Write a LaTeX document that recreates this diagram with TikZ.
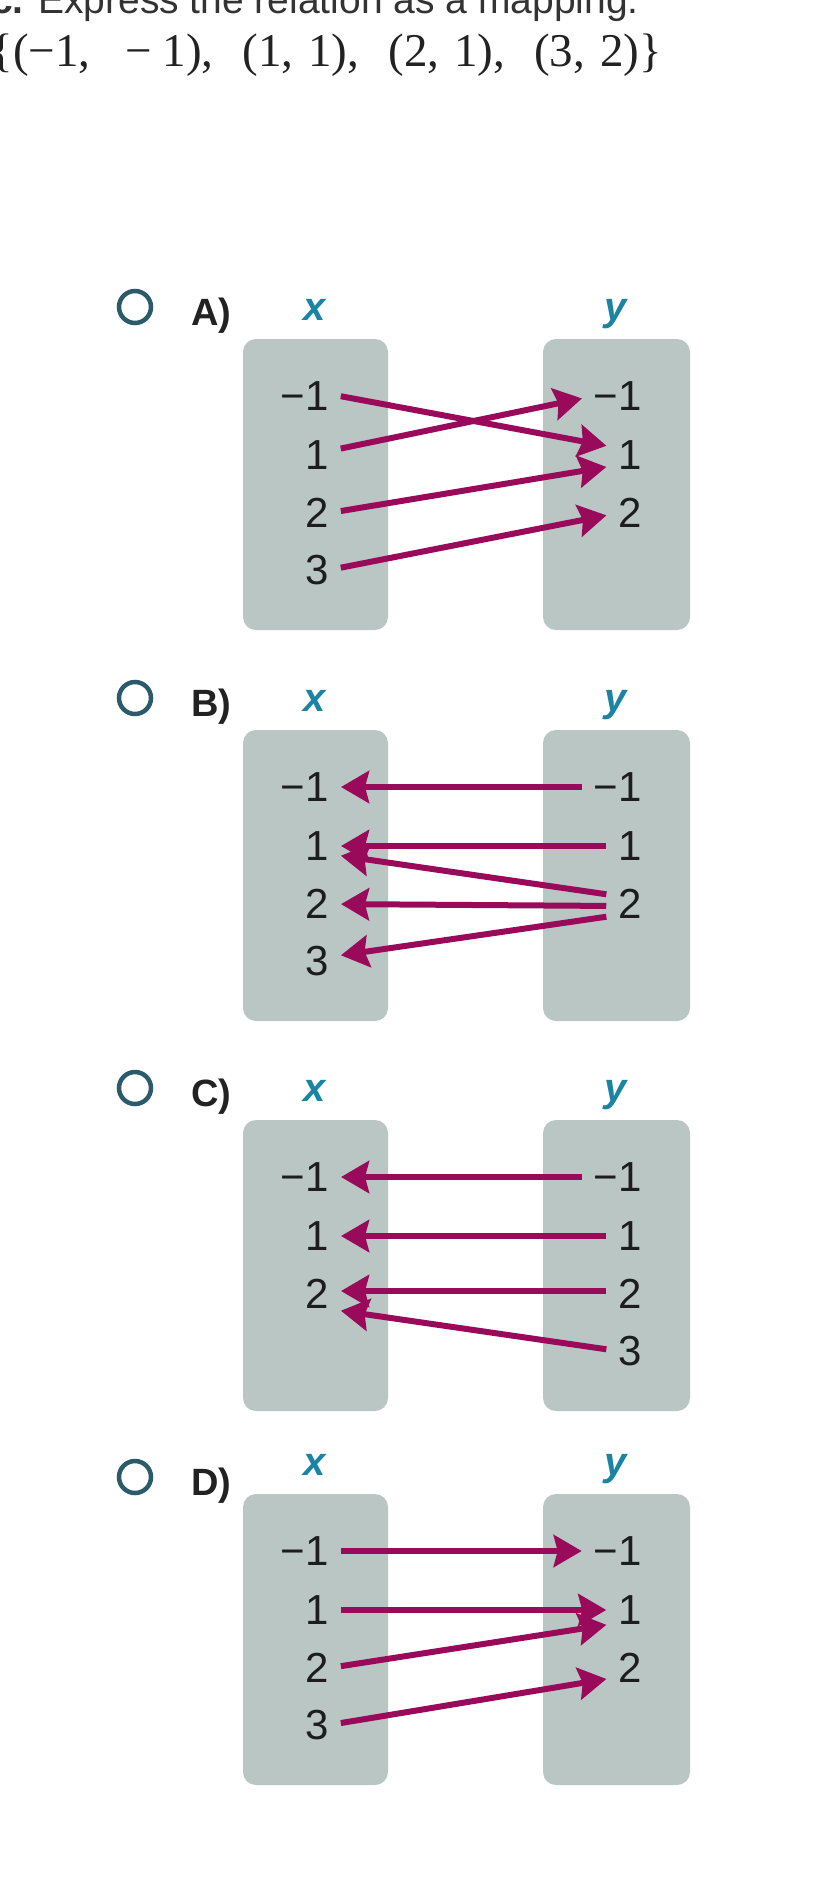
\documentclass[tikz,border=0pt]{standalone}
\usepackage{fontspec}
\setmainfont{Liberation Sans}
\newfontfamily\setserif{Liberation Serif}
\usetikzlibrary{arrows.meta}

\tikzset{
  numlabel/.style={inner sep=0pt, text=r29g29b29, font=\fontsize{42}{42}\selectfont},
  setname/.style={inner sep=0pt, anchor=base, text=r27g132b163, font=\bfseries\itshape\fontsize{40}{40}\selectfont},
  optletter/.style={inner sep=0pt, anchor=base west, text=r34g34b34, font=\bfseries\fontsize{38}{38}\selectfont},
  optcircle/.style={draw=r43g90b107, line width=4.5pt},
  setbox/.style={fill=r185g198b195, rounded corners=13pt},
  maparrow/.style={draw=r153g10b91, line width=6pt, -{Stealth[length=28pt, width=32pt, inset=4pt]}, shorten <=12pt, shorten >=12pt}
}

\begin{document}
\begin{tikzpicture}[x=1pt, y=-1pt]
                    \useasboundingbox (0,0) rectangle (835,1885);
                    \clip (0,0) rectangle (835,1885);

                    % Changing colors
                    \definecolor{r29g29b29}{RGB}{29,29,29}%
                    \definecolor{r27g132b163}{RGB}{27,132,163}%
                    \definecolor{r34g34b34}{RGB}{34,34,34}%
                    \definecolor{r43g90b107}{RGB}{43,90,107}%
                    \definecolor{r185g198b195}{RGB}{185,198,195}%
                    \definecolor{r153g10b91}{RGB}{153,10,91}%
                    \definecolor{r51g51b51}{RGB}{51,51,51}%

                    % Writing task and relation
                    \node [anchor=base west, inner sep=0pt, text=r51g51b51, font=\fontsize{39}{39}\selectfont] (task) at (-9,13) {\textbf{c.} Express the relation as a mapping.};
                    \node [anchor=base west, inner sep=0pt, text=r34g34b34, font=\setserif\fontsize{47}{47}\selectfont] (relation) at (-9.5,66.5) {\{(−1,\hspace{35pt}−\hspace{10.5pt}1),\hspace{29pt}(1,\hspace{15pt}1),\hspace{29pt}(2,\hspace{15pt}1),\hspace{29pt}(3,\hspace{15pt}2)\}};

                    % Option A
                    \draw [optcircle] (135,307) circle (16pt);
                    \node [optletter] (letA) at (191,325) {A)};
                    \node [setname] (setxA) at (315,320) {x};
                    \node [setname] (setyA) at (616,320) {y};
                    \fill [setbox] (243,339) rectangle (388,630);
                    \fill [setbox] (543,339) rectangle (690,630);
                    \node [numlabel, anchor=east] (axm1) at (329,396) {−1};
                    \node [numlabel, anchor=east] (ax1) at (329,455) {1};
                    \node [numlabel, anchor=east] (ax2) at (329,513) {2};
                    \node [numlabel, anchor=east] (ax3) at (329,570) {3};
                    \node [numlabel, anchor=east] (aym1) at (642,396) {−1};
                    \node [numlabel, anchor=east] (ay1) at (642,455) {1};
                    \node [numlabel, anchor=east] (ay2) at (642,513) {2};
                    % Drawing arrows A
                    \draw [maparrow] ([yshift=2pt]axm1.east) -- ([yshift=7pt]ay1.west);
                    \draw [maparrow] ([yshift=4pt]ax1.east) -- (aym1.west);
                    \draw [maparrow] (ax2.east) -- ([yshift=-10pt]ay1.west);
                    \draw [maparrow] (ax3.east) -- (ay2.west);

                    % Option B
                    \draw [optcircle] (135,698) circle (16pt);
                    \node [optletter] (letB) at (191,716) {B)};
                    \node [setname] (setxB) at (315,711) {x};
                    \node [setname] (setyB) at (616,711) {y};
                    \fill [setbox] (243,730) rectangle (388,1021);
                    \fill [setbox] (543,730) rectangle (690,1021);
                    \node [numlabel, anchor=east] (bxm1) at (329,787) {−1};
                    \node [numlabel, anchor=east] (bx1) at (329,846) {1};
                    \node [numlabel, anchor=east] (bx2) at (329,904) {2};
                    \node [numlabel, anchor=east] (bx3) at (329,961) {3};
                    \node [numlabel, anchor=east] (bym1) at (642,787) {−1};
                    \node [numlabel, anchor=east] (by1) at (642,846) {1};
                    \node [numlabel, anchor=east] (by2) at (642,904) {2};
                    % Drawing arrows B
                    \draw [maparrow] (bym1.west) -- (bxm1.east);
                    \draw [maparrow] (by1.west) -- (bx1.east);
                    \draw [maparrow] ([yshift=8pt]by2.west) -- ([yshift=-8pt]bx1.east);
                    \draw [maparrow] ([yshift=-2pt]by2.west) -- (bx2.east);
                    \draw [maparrow] ([yshift=-11pt]by2.west) -- ([yshift=4pt]bx3.east);

                    % Option C
                    \draw [optcircle] (135,1088) circle (16pt);
                    \node [optletter] (letC) at (191,1106) {C)};
                    \node [setname] (setxC) at (315,1101) {x};
                    \node [setname] (setyC) at (616,1101) {y};
                    \fill [setbox] (243,1120) rectangle (388,1411);
                    \fill [setbox] (543,1120) rectangle (690,1411);
                    \node [numlabel, anchor=east] (cxm1) at (329,1177) {−1};
                    \node [numlabel, anchor=east] (cx1) at (329,1236) {1};
                    \node [numlabel, anchor=east] (cx2) at (329,1294) {2};
                    \node [numlabel, anchor=east] (cym1) at (642,1177) {−1};
                    \node [numlabel, anchor=east] (cy1) at (642,1236) {1};
                    \node [numlabel, anchor=east] (cy2) at (642,1294) {2};
                    \node [numlabel, anchor=east] (cy3) at (642,1351) {3};
                    % Drawing arrows C
                    \draw [maparrow] (cym1.west) -- (cxm1.east);
                    \draw [maparrow] (cy1.west) -- (cx1.east);
                    \draw [maparrow] ([yshift=3pt]cy2.west) -- ([yshift=3pt]cx2.east);
                    \draw [maparrow] (cy3.west) -- ([yshift=-15pt]cx2.east);

                    % Option D
                    \draw [optcircle] (135,1477) circle (16pt);
                    \node [optletter] (letD) at (191,1495) {D)};
                    \node [setname] (setxD) at (315,1475) {x};
                    \node [setname] (setyD) at (616,1475) {y};
                    \fill [setbox] (243,1494) rectangle (388,1785);
                    \fill [setbox] (543,1494) rectangle (690,1785);
                    \node [numlabel, anchor=east] (dxm1) at (329,1551) {−1};
                    \node [numlabel, anchor=east] (dx1) at (329,1610) {1};
                    \node [numlabel, anchor=east] (dx2) at (329,1668) {2};
                    \node [numlabel, anchor=east] (dx3) at (329,1725) {3};
                    \node [numlabel, anchor=east] (dym1) at (642,1551) {−1};
                    \node [numlabel, anchor=east] (dy1) at (642,1610) {1};
                    \node [numlabel, anchor=east] (dy2) at (642,1668) {2};
                    % Drawing arrows D
                    \draw [maparrow] (dxm1.east) -- (dym1.west);
                    \draw [maparrow] (dx1.east) -- (dy1.west);
                    \draw [maparrow] (dx2.east) -- ([yshift=-13pt]dy1.west);
                    \draw [maparrow] (dx3.east) -- ([yshift=-9pt]dy2.west);
\end{tikzpicture}
\end{document}
